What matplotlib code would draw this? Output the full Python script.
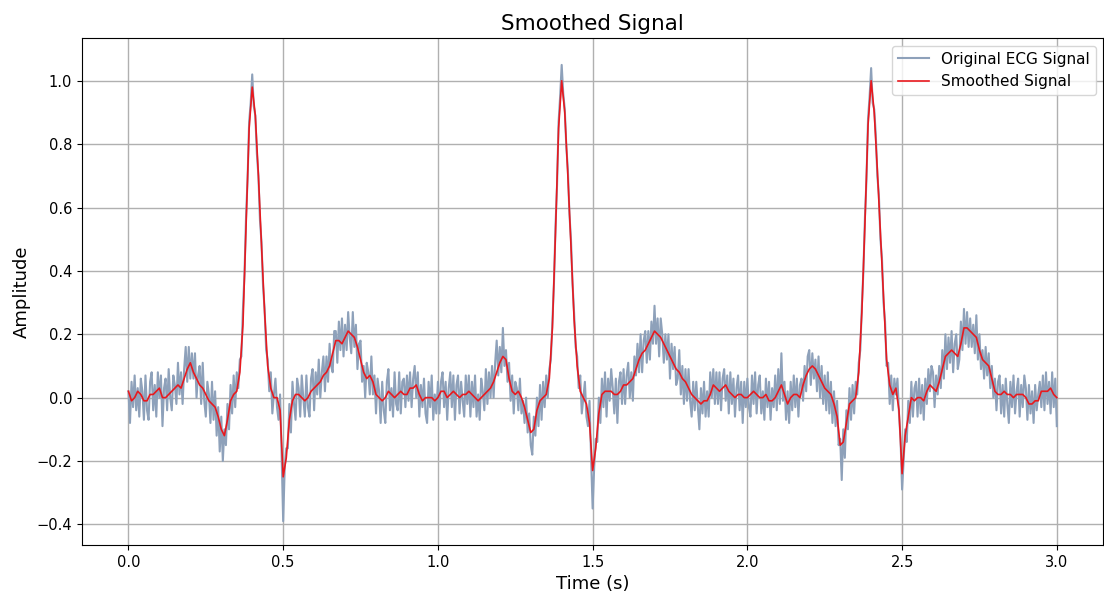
"""Original vs smoothed ECG trace."""

import matplotlib
import matplotlib.pyplot as plt
import numpy as np

matplotlib.use("Agg")

# raw trace, 200 Hz samples from 0.0 s to 3.0 s (one row = 0.1 s)
ecg_raw = [
    0.02, -0.08, 0.05, -0.03, 0.07, -0.04, 0.03, -0.06, 0.06, 0.02, -0.07, 0.07, -0.04, -0.07, 0.05, 0.08, -0.04, 0.04, -0.06, 0.08,
    0.00, 0.07, -0.09, 0.03, 0.06, -0.04, 0.09, 0.00, -0.04, 0.07, 0.04, -0.02, 0.11, 0.01, 0.08, -0.02, 0.09, 0.16, 0.05, 0.16,
    0.06, 0.14, 0.06, 0.14, 0.00, 0.07, 0.10, -0.02, 0.11, -0.01, -0.06, 0.05, 0.01, -0.08, 0.05, -0.07, 0.02, -0.12, -0.03, -0.17,
    -0.06, -0.20, -0.10, -0.15, -0.02, -0.10, 0.04, -0.05, 0.07, -0.03, 0.08, 0.03, 0.12, 0.13, 0.28, 0.39, 0.57, 0.69, 0.87, 0.93,
    1.02, 0.92, 0.89, 0.77, 0.70, 0.56, 0.49, 0.35, 0.28, 0.15, 0.12, 0.02, 0.08, -0.05, 0.01, 0.06, -0.03, -0.07, 0.01, -0.18,
    -0.39, -0.22, -0.16, -0.16, -0.02, -0.11, 0.05, -0.02, -0.07, 0.06, 0.03, -0.06, 0.07, 0.00, -0.06, 0.07, -0.03, -0.06, 0.06, 0.09,
    -0.04, 0.08, 0.01, 0.12, 0.00, 0.08, 0.13, 0.02, 0.13, 0.05, 0.17, 0.10, 0.08, 0.21, 0.21, 0.11, 0.24, 0.15, 0.25, 0.13,
    0.23, 0.15, 0.27, 0.19, 0.14, 0.27, 0.16, 0.23, 0.09, 0.17, 0.18, 0.05, 0.10, 0.00, 0.11, 0.08, 0.01, 0.13, 0.01, 0.07,
    -0.05, 0.06, 0.02, -0.08, 0.05, -0.04, -0.08, 0.05, 0.09, -0.04, 0.03, -0.06, 0.08, -0.02, -0.04, 0.08, -0.05, 0.05, 0.06, -0.03,
    0.07, -0.01, 0.08, -0.03, 0.06, 0.10, 0.00, 0.08, -0.06, 0.04, -0.03, 0.06, -0.05, -0.08, 0.05, -0.03, 0.07, -0.07, 0.01, -0.05,
    0.05, -0.05, 0.05, 0.08, -0.03, 0.05, -0.07, 0.03, 0.08, -0.03, 0.07, -0.07, 0.04, 0.07, -0.05, 0.05, -0.01, -0.06, 0.07, -0.02,
    0.07, -0.06, 0.05, -0.03, 0.07, -0.06, 0.01, -0.07, 0.06, 0.02, -0.04, 0.09, -0.02, 0.08, 0.00, 0.10, 0.00, 0.11, 0.18, 0.07,
    0.16, 0.08, 0.22, 0.10, 0.15, 0.05, 0.11, -0.01, 0.07, -0.05, 0.05, 0.03, -0.04, 0.06, -0.05, -0.01, -0.08, 0.00, -0.11, -0.05,
    -0.15, -0.18, -0.06, -0.12, 0.00, -0.09, 0.04, -0.07, 0.05, -0.03, 0.07, 0.00, 0.09, 0.12, 0.24, 0.36, 0.54, 0.67, 0.87, 0.95,
    1.05, 0.96, 0.91, 0.79, 0.72, 0.58, 0.50, 0.36, 0.27, 0.16, 0.13, 0.03, 0.07, -0.05, 0.00, 0.05, -0.06, -0.09, -0.01, -0.19,
    -0.35, -0.22, -0.13, -0.14, 0.00, -0.08, 0.06, -0.03, 0.08, -0.06, 0.06, -0.01, 0.09, 0.03, -0.05, 0.06, -0.08, 0.05, 0.08, -0.02,
    0.09, -0.02, 0.07, 0.11, 0.00, 0.08, -0.01, 0.13, 0.07, 0.17, 0.08, 0.20, 0.08, 0.18, 0.21, 0.11, 0.21, 0.12, 0.24, 0.17,
    0.29, 0.17, 0.25, 0.13, 0.25, 0.20, 0.11, 0.20, 0.12, 0.20, 0.06, 0.17, 0.09, 0.16, 0.04, 0.06, 0.15, 0.01, 0.10, -0.02,
    0.09, -0.01, 0.09, -0.01, -0.06, 0.05, -0.04, 0.05, -0.03, -0.10, 0.03, -0.05, 0.05, -0.06, 0.02, -0.06, 0.08, 0.00, 0.09, -0.02,
    0.08, -0.02, 0.08, -0.04, 0.06, 0.09, -0.01, 0.07, -0.05, 0.08, -0.02, 0.06, -0.06, 0.03, 0.07, -0.04, 0.05, -0.08, 0.05, -0.03,
    0.06, -0.03, -0.06, 0.07, -0.02, 0.08, -0.05, 0.04, 0.07, -0.05, 0.02, -0.07, 0.06, -0.03, 0.05, -0.07, 0.03, -0.03, 0.07, -0.04,
    0.09, -0.02, 0.14, -0.01, 0.05, -0.07, 0.02, -0.08, 0.05, -0.04, 0.07, -0.03, 0.06, -0.06, 0.04, 0.06, -0.01, 0.10, 0.02, 0.13,
    0.15, 0.04, 0.14, 0.06, 0.12, 0.02, 0.13, 0.00, 0.10, -0.02, 0.07, -0.04, 0.08, -0.05, 0.05, -0.08, 0.02, -0.09, -0.01, -0.15,
    -0.13, -0.26, -0.10, -0.19, -0.04, -0.10, 0.03, -0.07, 0.04, -0.05, 0.05, 0.01, 0.11, 0.15, 0.29, 0.40, 0.57, 0.69, 0.88, 0.95,
    1.04, 0.93, 0.91, 0.83, 0.70, 0.64, 0.50, 0.44, 0.30, 0.24, 0.10, 0.11, -0.02, 0.07, -0.04, 0.06, 0.01, 0.06, -0.05, -0.13,
    -0.29, -0.20, -0.10, -0.14, -0.01, -0.08, 0.05, -0.06, 0.03, 0.05, -0.06, 0.06, -0.05, 0.04, -0.07, 0.06, -0.02, 0.09, 0.02, 0.10,
    0.08, -0.03, 0.07, 0.01, 0.10, 0.03, 0.15, 0.06, 0.20, 0.09, 0.19, 0.11, 0.21, 0.08, 0.17, 0.20, 0.09, 0.12, 0.24, 0.15,
    0.28, 0.17, 0.27, 0.16, 0.25, 0.16, 0.23, 0.14, 0.26, 0.12, 0.20, 0.09, 0.15, 0.06, 0.16, 0.07, 0.14, 0.03, 0.10, 0.00,
    0.06, -0.04, 0.05, 0.07, -0.05, 0.04, -0.06, 0.06, -0.02, -0.08, 0.05, -0.03, 0.07, -0.05, 0.02, 0.06, -0.06, 0.04, -0.03, 0.07,
    0.03, -0.07, 0.04, -0.05, 0.02, -0.08, 0.04, -0.04, 0.01, 0.05, -0.03, 0.07, -0.04, 0.08, -0.02, 0.05, -0.05, 0.08, -0.03, 0.06,
    -0.09,
]

# smoothed trace, 100 Hz samples from 0.0 s to 3.0 s (one row = 0.1 s)
ecg_smooth = [
    0.02, -0.01, 0.00, 0.02, 0.01, -0.01, -0.01, 0.01, 0.01, 0.02,
    0.03, 0.00, 0.00, 0.01, 0.02, 0.03, 0.04, 0.03, 0.06, 0.09,
    0.11, 0.08, 0.06, 0.04, 0.03, 0.01, -0.01, -0.02, -0.03, -0.06,
    -0.10, -0.12, -0.07, -0.01, 0.01, 0.02, 0.08, 0.23, 0.54, 0.85,
    0.98, 0.89, 0.70, 0.48, 0.27, 0.10, 0.03, 0.00, 0.00, -0.04,
    -0.25, -0.19, -0.07, -0.01, 0.01, 0.01, 0.00, -0.01, 0.00, 0.02,
    0.03, 0.04, 0.05, 0.07, 0.08, 0.10, 0.14, 0.18, 0.18, 0.17,
    0.19, 0.21, 0.20, 0.19, 0.16, 0.12, 0.08, 0.06, 0.07, 0.05,
    0.01, 0.00, -0.01, 0.00, 0.02, 0.01, 0.00, 0.01, 0.02, 0.01,
    0.01, 0.03, 0.03, 0.04, 0.01, -0.01, 0.00, 0.00, 0.00, -0.01,
    0.00, 0.02, 0.02, 0.00, 0.01, 0.02, 0.01, 0.00, 0.01, 0.01,
    0.02, 0.01, 0.00, -0.01, 0.00, 0.01, 0.02, 0.03, 0.05, 0.08,
    0.11, 0.13, 0.12, 0.06, 0.02, 0.01, 0.02, 0.00, -0.03, -0.07,
    -0.11, -0.10, -0.04, -0.01, 0.00, 0.01, 0.06, 0.22, 0.52, 0.85,
    1.00, 0.90, 0.70, 0.48, 0.25, 0.10, 0.02, 0.00, -0.02, -0.08,
    -0.23, -0.16, -0.05, 0.01, 0.02, 0.02, 0.02, 0.01, 0.01, 0.02,
    0.04, 0.04, 0.05, 0.06, 0.09, 0.12, 0.14, 0.15, 0.17, 0.19,
    0.21, 0.20, 0.19, 0.17, 0.15, 0.13, 0.11, 0.09, 0.08, 0.06,
    0.05, 0.03, 0.01, 0.00, -0.01, -0.02, -0.01, -0.01, 0.01, 0.04,
    0.03, 0.02, 0.03, 0.04, 0.02, 0.01, 0.00, 0.01, 0.01, 0.00,
    0.00, 0.01, 0.02, 0.01, 0.00, 0.00, 0.01, -0.01, -0.01, 0.00,
    0.02, 0.04, 0.01, -0.02, 0.00, 0.01, 0.01, 0.00, 0.04, 0.07,
    0.09, 0.10, 0.09, 0.07, 0.05, 0.03, 0.02, 0.01, -0.02, -0.06,
    -0.15, -0.14, -0.08, -0.02, -0.01, 0.00, 0.08, 0.27, 0.55, 0.86,
    1.00, 0.90, 0.72, 0.52, 0.32, 0.12, 0.04, 0.01, 0.03, -0.04,
    -0.24, -0.12, -0.06, 0.00, -0.01, 0.00, 0.00, -0.01, 0.02, 0.04,
    0.03, 0.02, 0.05, 0.09, 0.13, 0.14, 0.15, 0.14, 0.13, 0.17,
    0.22, 0.22, 0.21, 0.20, 0.19, 0.15, 0.12, 0.11, 0.10, 0.06,
    0.02, 0.01, 0.01, 0.02, 0.01, 0.01, 0.00, 0.01, 0.01, 0.01,
    0.00, -0.02, -0.02, -0.01, -0.01, 0.02, 0.02, 0.02, 0.03, 0.01,
    0.00,
]

t_raw = np.linspace(0, 3, len(ecg_raw))
t_smooth = np.linspace(0, 3, len(ecg_smooth))

fig = plt.figure(figsize=(11.04, 5.99), dpi=100)
ax = fig.add_axes([0.0743, 0.0902, 0.925, 0.8464])

ax.plot(t_raw, ecg_raw, color="#8ea1ba", linewidth=1.5, label="Original ECG Signal")
ax.plot(t_smooth, ecg_smooth, color="#e8191e", linewidth=1.2, label="Smoothed Signal")

ax.set_xlim(-0.15, 3.15)
ax.set_ylim(-0.465, 1.135)
ax.set_title("Smoothed Signal", fontsize=15.5)
ax.set_xlabel("Time (s)", fontsize=13)
ax.set_ylabel("Amplitude", fontsize=13)
ax.tick_params(labelsize=10.5)
ax.grid(True, color="#b0b0b0", linewidth=1.0)
ax.legend(loc="upper right", fontsize=11)

fig.savefig("out.png", dpi=100)
plt.close(fig)
